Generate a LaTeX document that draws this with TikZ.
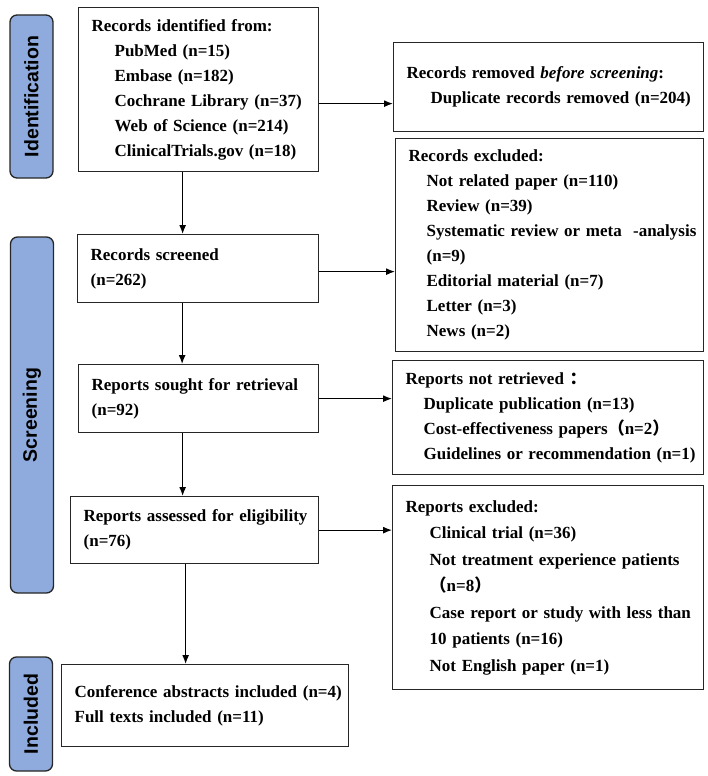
\documentclass[tikz,border=0pt]{standalone}
\usepackage{fontspec}
\setmainfont{Liberation Serif}
\newfontfamily\stagefont{Liberation Sans}
\newfontfamily\cjk{Noto Sans CJK SC}
\usetikzlibrary{arrows.meta}
\definecolor{stageblue}{RGB}{143,170,220}
\newcommand{\subln}[2]{\mbox{\hspace*{#1}#2}}
\begin{document}
\begin{tikzpicture}[x=1pt, y=-1pt,
    stage/.style={draw=black!85, line width=1.3pt, fill=stageblue, rounded corners=7pt,
                  rotate=90, minimum height=43pt, inner sep=0pt,
                  font=\stagefont\fontsize{19.5}{23}\selectfont\bfseries},
    flowbox/.style={draw=black!85, line width=1.3pt, fill=white, anchor=north west,
                    align=left, inner xsep=13pt, inner ysep=0pt,
                    font=\fontsize{17}{25}\selectfont\bfseries},
    flow/.style={-{Latex[length=9pt,width=7pt]}, line width=1.2pt},
  ]
    \useasboundingbox (0,0) rectangle (708,776);

    \node[stage, minimum width=163pt] (identification) at (31.5,96.5) {Identification};
    \node[stage, minimum width=356pt] (screening) at (32,415) {Screening};
    \node[stage, minimum width=114pt] (included) at (31,714) {Included};

    \node[flowbox, text width=214pt, minimum height=164pt] (ident) at (78,7)
      {Records identified from:\\
       \subln{23pt}{PubMed (n=15)}\\
       \subln{23pt}{Embase (n=182)}\\
       \subln{23pt}{Cochrane Library (n=37)}\\
       \subln{23pt}{Web of Science (n=214)}\\
       \subln{23pt}{ClinicalTrials.gov (n=18)}};
    \node[flowbox, text width=215pt, minimum height=68pt] (screen) at (77,234)
      {Records screened\\(n=262)};
    \node[flowbox, text width=214pt, minimum height=68pt] (sought) at (78,364)
      {Reports sought for retrieval\\(n=92)};
    \node[flowbox, text width=222pt, minimum height=67pt] (assessed) at (70,496)
      {\mbox{Reports assessed for eligibility}\\(n=76)};
    \node[flowbox, text width=261pt, minimum height=82pt] (incl) at (61,664)
      {\mbox{Conference abstracts included (n=4)}\\
       Full texts included (n=11)};

    \node[flowbox, text width=284pt, minimum height=89pt] (removed) at (393,42)
      {Records removed \textit{before screening}:\\
       \subln{24pt}{Duplicate records removed (n=204)}};
    \node[flowbox, text width=282pt, minimum height=213pt] (excl) at (395,138)
      {Records excluded:\\
       \subln{18pt}{Not related paper (n=110)}\\
       \subln{18pt}{Review (n=39)}\\
       \subln{18pt}{Systematic review or meta\ \ -analysis}\\
       \subln{18pt}{(n=9)}\\
       \subln{18pt}{Editorial material (n=7)}\\
       \subln{18pt}{Letter (n=3)}\\
       \subln{18pt}{News (n=2)}};
    \node[flowbox, text width=285pt, minimum height=114pt] (notret) at (392,360)
      {Reports not retrieved {\cjk ：}\\
       \subln{18pt}{Duplicate publication (n=13)}\\
       \subln{18pt}{Cost-effectiveness papers{\cjk （}n=2{\cjk ）}}\\
       \subln{18pt}{Guidelines or recommendation (n=1)}};
    \node[flowbox, text width=285pt, minimum height=204pt,
          font=\fontsize{17}{26.5}\selectfont\bfseries] (repexcl) at (392,485)
      {Reports excluded:\\
       \subln{24pt}{Clinical trial (n=36)}\\
       \subln{24pt}{Not treatment experience patients}\\
       \subln{24pt}{{\cjk （}n=8{\cjk ）}}\\
       \subln{24pt}{Case report or study with less than}\\
       \subln{24pt}{10 patients (n=16)}\\
       \subln{24pt}{Not English paper (n=1)}};

    \draw[flow] ([xshift=-16pt]ident.south) -- ([xshift=-16pt]ident.south |- screen.north);
    \draw[flow] ([xshift=-16pt]screen.south) -- ([xshift=-16pt]screen.south |- sought.north);
    \draw[flow] ([xshift=-16pt]sought.south) -- ([xshift=-16pt]sought.south |- assessed.north);
    \draw[flow] ([xshift=-9pt]assessed.south) -- ([xshift=-9pt]assessed.south |- incl.north);

    \draw[flow] ([yshift=-14pt]ident.east) -- ([yshift=-14pt]ident.east -| removed.west);
    \draw[flow] ([yshift=-3pt]screen.east) -- ([yshift=-3pt]screen.east -| excl.west);
    \draw[flow] (sought.east) -- (sought.east -| notret.west);
    \draw[flow] (assessed.east) -- (assessed.east -| repexcl.west);
  \end{tikzpicture}
\end{document}
